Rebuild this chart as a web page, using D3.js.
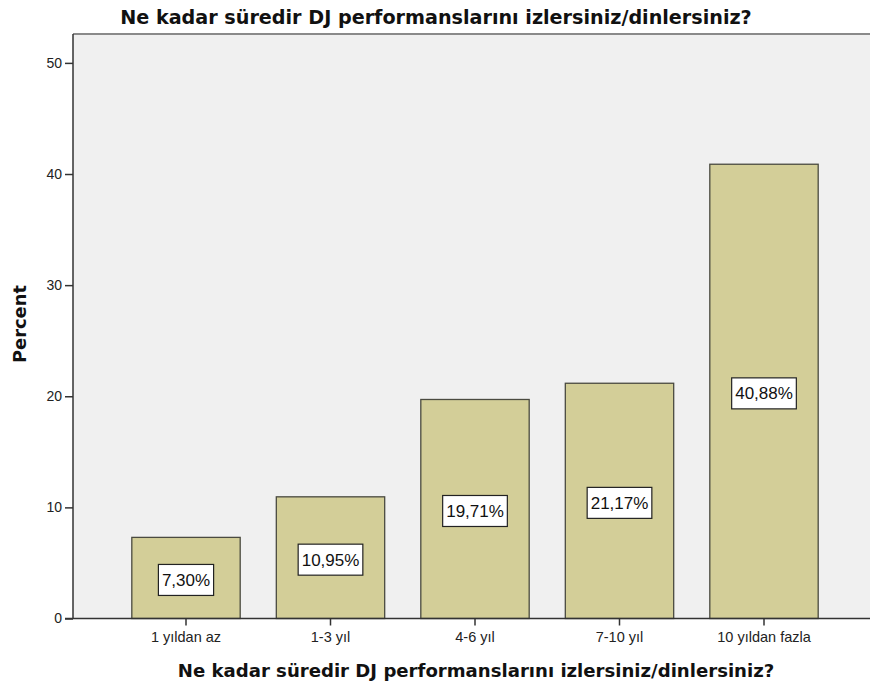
<!DOCTYPE html>
<html>
<head>
<meta charset="utf-8">
<script src="https://cdn.jsdelivr.net/npm/d3@7"></script>
<style>
  html, body { margin: 0; padding: 0; background: #fff; }
  svg { display: block; font-family: "Liberation Sans", Arial, sans-serif; }
</style>
</head>
<body>
<div id="chart"></div>
<script>
// data
const categories = ["1 yıldan az", "1-3 yıl", "4-6 yıl", "7-10 yıl", "10 yıldan fazla"];
const percents = [7.30, 10.95, 19.71, 21.17, 40.88];
const yTicks = [0, 10, 20, 30, 40, 50];
const titleText = "Ne kadar süredir DJ performanslarını izlersiniz/dinlersiniz?";

const W = 870, H = 689;
const plotLeft = 73, plotTop = 34, plotBottom = 618.5, plotRight = 880;
const boldFont = "'DejaVu Sans', Verdana, sans-serif";

const svg = d3.select("#chart").append("svg")
  .attr("width", W)
  .attr("height", H);

const x = d3.scaleBand()
  .domain(categories)
  .range([113.75, 836.25])
  .paddingInner(0.25)
  .paddingOuter(0.125);

const y = d3.scaleLinear()
  .domain([0, 52.6])
  .range([plotBottom, plotTop]);

// plot background
svg.append("rect")
  .attr("x", plotLeft)
  .attr("y", plotTop)
  .attr("width", plotRight - plotLeft)
  .attr("height", plotBottom - plotTop)
  .attr("fill", "#f0f0f0");

// top frame line
svg.append("line")
  .attr("x1", plotLeft).attr("x2", W)
  .attr("y1", plotTop).attr("y2", plotTop)
  .attr("stroke", "#8a8a8a")
  .attr("stroke-width", 2);

// bars
svg.append("g").selectAll("rect")
  .data(percents)
  .join("rect")
  .attr("x", (d, i) => x(categories[i]))
  .attr("y", d => y(d))
  .attr("width", x.bandwidth())
  .attr("height", d => y(0) - y(d))
  .attr("fill", "#d3ce98")
  .attr("stroke", "#4a4a40")
  .attr("stroke-width", 1.3);

// value labels in white boxes
const fmt = v => v.toFixed(2).replace(".", ",") + "%";
const labels = svg.append("g").selectAll("g")
  .data(percents)
  .join("g")
  .attr("transform", (d, i) =>
    `translate(${x(categories[i]) + x.bandwidth() / 2}, ${(y(0) + y(d)) / 2 + 2})`);

labels.each(function (d) {
  const g = d3.select(this);
  const t = g.append("text")
    .attr("text-anchor", "middle")
    .attr("dy", "0.36em")
    .attr("font-size", 17)
    .attr("fill", "#111")
    .text(fmt(d));
  const bb = t.node().getBBox();
  g.insert("rect", "text")
    .attr("x", bb.x - 3.5)
    .attr("y", -15.5)
    .attr("width", bb.width + 7)
    .attr("height", 31)
    .attr("fill", "#fff")
    .attr("stroke", "#222")
    .attr("stroke-width", 1.2);
});

// y axis
const yAxis = svg.append("g")
  .attr("transform", `translate(${plotLeft},0)`)
  .call(d3.axisLeft(y).tickValues(yTicks).tickSize(8).tickPadding(3));
yAxis.select(".domain").attr("stroke", "#333").attr("stroke-width", 1.5)
  .attr("d", `M0,${plotTop}V${plotBottom}`);
yAxis.selectAll(".tick line").attr("stroke", "#333").attr("stroke-width", 1.5);
yAxis.selectAll(".tick text").attr("font-size", 14).attr("fill", "#222")
  .attr("font-family", "Liberation Sans, Arial, sans-serif");

// x axis
const xAxis = svg.append("g")
  .attr("transform", `translate(0,${plotBottom})`)
  .call(d3.axisBottom(x).tickSize(7).tickPadding(6));
xAxis.select(".domain").attr("stroke", "#333").attr("stroke-width", 1.5)
  .attr("d", `M${plotLeft - 8},0H${W}`);
xAxis.selectAll(".tick line").attr("stroke", "#333").attr("stroke-width", 1.5);
xAxis.selectAll(".tick text").attr("font-size", 14.5).attr("fill", "#222")
  .attr("font-family", "Liberation Sans, Arial, sans-serif");

// titles, sized to the widths seen in the reference
function fitText(sel, targetWidth) {
  const w = sel.node().getComputedTextLength();
  const fs = +sel.attr("font-size");
  sel.attr("font-size", fs * targetWidth / w);
}

const topTitle = svg.append("text")
  .attr("x", 436)
  .attr("y", 24)
  .attr("text-anchor", "middle")
  .attr("font-family", boldFont)
  .attr("font-size", 18)
  .attr("font-weight", 700)
  .attr("fill", "#111")
  .text(titleText);
fitText(topTitle, 632);

const xTitle = svg.append("text")
  .attr("x", 476)
  .attr("y", 677)
  .attr("text-anchor", "middle")
  .attr("font-family", boldFont)
  .attr("font-size", 18)
  .attr("font-weight", 700)
  .attr("fill", "#111")
  .text(titleText);
fitText(xTitle, 597);

const yTitle = svg.append("text")
  .attr("transform", "translate(26,324) rotate(-90)")
  .attr("text-anchor", "middle")
  .attr("font-family", boldFont)
  .attr("font-size", 17)
  .attr("font-weight", 700)
  .attr("fill", "#111")
  .text("Percent");
fitText(yTitle, 78);
</script>
</body>
</html>
